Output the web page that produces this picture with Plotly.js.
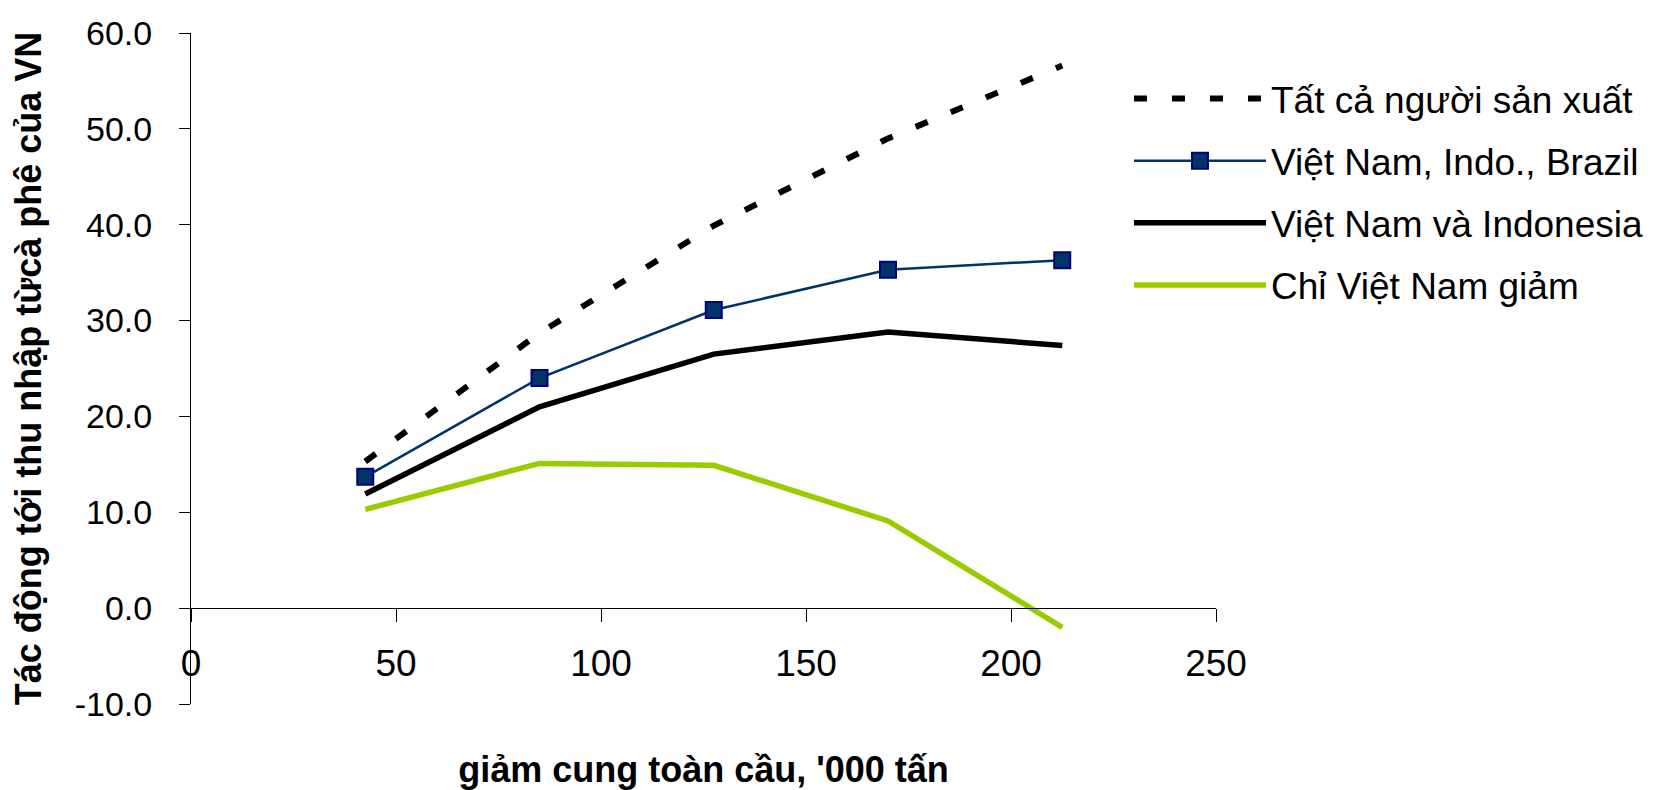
<!DOCTYPE html>
<html>
<head>
<meta charset="utf-8">
<script src="https://cdn.plot.ly/plotly-3.0.1.min.js"></script>
<style>
  html, body { margin: 0; padding: 0; background: #ffffff; }
  #chart { width: 1654px; height: 790px; }
</style>
</head>
<body>
<div id="chart"></div>
<script>
// ---- data ----
const supplyCut = [42.5, 85, 127.5, 170, 212.5];           // '000 tấn
const seriesNames = [
  "Tất cả người sản xuất",
  "Việt Nam, Indo., Brazil",
  "Việt Nam và Indonesia",
  "Chỉ Việt Nam giảm"
];
const allProducers   = [15.3, 28.7, 39.9, 49.0, 56.6];
const vnIndoBrazil   = [13.7, 24.0, 31.1, 35.3, 36.3];
const vnIndonesia    = [11.9, 21.0, 26.5, 28.8, 27.4];
const vnOnly         = [10.3, 15.1, 14.9, 9.1, -2.0];

const yTickVals = [-10, 0, 10, 20, 30, 40, 50, 60];
const yTickText = ["-10.0", "0.0", "10.0", "20.0", "30.0", "40.0", "50.0", "60.0"];
const xTickVals = [0, 50, 100, 150, 200, 250];
const xTickText = ["0", "50", "100", "150", "200", "250"];

const xTitle = "giảm cung toàn cầu, '000 tấn";
const yTitle = "Tác động tới thu nhập từcà phê của VN";

const regular = "'Liberation Sans', Arial, sans-serif";

const traces = [
  {
    x: supplyCut, y: allProducers, name: seriesNames[0], legendgroup: "g1",
    type: "scatter", mode: "lines",
    line: { color: "#000000", width: 6, dash: "13px,25px" }
  },
  {
    x: supplyCut, y: vnIndoBrazil, name: seriesNames[1], legendgroup: "g2",
    type: "scatter", mode: "lines+markers",
    line: { color: "#003366", width: 2.5 },
    marker: { symbol: "square", size: 16, color: "#003366", line: { color: "#000080", width: 2 } }
  },
  {
    x: supplyCut, y: vnIndonesia, name: seriesNames[2], legendgroup: "g3",
    type: "scatter", mode: "lines",
    line: { color: "#000000", width: 5.5 }
  },
  {
    x: supplyCut, y: vnOnly, name: seriesNames[3], legendgroup: "g4",
    type: "scatter", mode: "lines",
    line: { color: "#99CC00", width: 5.5 }
  }
];

const layout = {
  width: 1654, height: 790,
  paper_bgcolor: "#ffffff", plot_bgcolor: "#ffffff",
  margin: { l: 191, r: 438, t: 33, b: 86, pad: 0, autoexpand: false },
  showlegend: true,
  legend: {
    xref: "paper", yref: "paper",
    x: 0.9151, y: 0.9478, xanchor: "left", yanchor: "top",
    font: { family: regular, size: 37, color: "#000000" },
    itemwidth: 132,
    traceorder: "grouped",
    tracegroupgap: 11,
    bgcolor: "rgba(0,0,0,0)", borderwidth: 0
  },
  xaxis: {
    range: [0, 250], autorange: false,
    anchor: "free", position: 1 / 7,
    tickmode: "array", tickvals: xTickVals, ticktext: xTickText,
    ticks: "outside", ticklen: 13, tickwidth: 1, tickcolor: "#000000",
    ticklabelstandoff: 9,
    tickfont: { family: regular, size: 37, color: "#000000" },
    showline: true, linecolor: "#000000", linewidth: 1,
    showgrid: false, zeroline: false,
    title: { text: xTitle, font: { family: regular, size: 36, color: "#000000", weight: "bold" }, standoff: 80 }
  },
  yaxis: {
    range: [-10, 60], autorange: false,
    automargin: true,
    tickmode: "array", tickvals: yTickVals, ticktext: yTickText,
    ticks: "outside", ticklen: 11, tickwidth: 1, tickcolor: "#000000",
    ticklabelstandoff: 20,
    tickfont: { family: regular, size: 34, color: "#000000" },
    showline: true, linecolor: "#000000", linewidth: 1,
    showgrid: false, zeroline: false,
    title: { text: yTitle, font: { family: regular, size: 36, color: "#000000", weight: "bold" }, standoff: 22 }
  }
};

Plotly.newPlot("chart", traces, layout, { displayModeBar: false, staticPlot: true });
</script>
</body>
</html>
